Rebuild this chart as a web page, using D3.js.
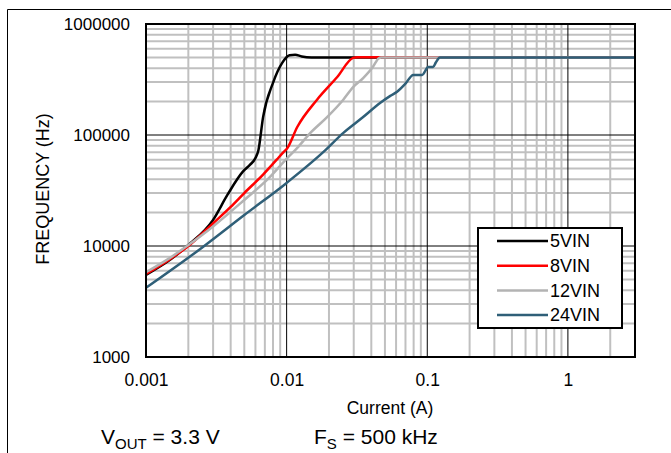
<!DOCTYPE html>
<html><head><meta charset="utf-8">
<script src="https://cdn.jsdelivr.net/npm/d3@7"></script>
<style>body{margin:0;background:#fff}svg{display:block}text{font-family:Arial,"Liberation Sans",sans-serif;fill:#000}</style>
</head><body>
<script>
const seriesNames = ["5VIN","8VIN","12VIN","24VIN"];
const seriesColors = ["#000000","#ff0000","#b3b3b3","#2f5f78"];
const i5 = [0.001,0.0015,0.002,0.003,0.0038,0.0049,0.0055,0.006,0.0063,0.0068,0.008,0.0093,0.0105,0.0115,0.0128,0.015,0.03,3];
const f5 = [5500,7600,10200,17200,29000,47000,54000,62000,73000,145000,295000,446000,522000,528000,510000,500000,500000,500000];
const i8 = [0.001,0.0015,0.002,0.003,0.004,0.005,0.0068,0.0085,0.0095,0.0101,0.0119,0.0164,0.0229,0.0297,0.032,3];
const f8 = [5600,7700,10000,16000,22500,30000,44000,60000,70000,76000,118000,207000,333000,495000,502000,502000];
const i12 = [0.001,0.0015,0.002,0.003,0.005,0.0075,0.0101,0.0115,0.0147,0.0194,0.0252,0.0297,0.035,0.041,0.045,0.047,3];
const f12 = [5800,7900,10200,15000,26000,41000,62000,73000,104000,145000,207000,270000,325000,409000,490000,500000,500000];
const i24 = [0.001,0.00254,0.005,0.01,0.0182,0.0252,0.035,0.0464,0.0546,0.061,0.07,0.0795,0.092,0.097,0.101,0.11,0.115,0.123,3];
const f24 = [4200,9800,19000,37000,70000,104000,145000,195000,225000,245000,290000,348000,348000,380000,410000,410000,450000,500000,500000];
const xTicks = [0.001,0.01,0.1,1];
const xTickLabels = ["0.001","0.01","0.1","1"];
const yTicks = [1000,10000,100000,1000000];
const yTickLabels = ["1000","10000","100000","1000000"];
const xDomain = [0.001,3];
const yDomain = [1000,1000000];

const W=671,H=453;
const svg=d3.select("body").append("svg").attr("width",W).attr("height",H);
svg.append("rect").attr("width",W).attr("height",H).attr("fill","#fff");
svg.append("line").attr("x1",7.5).attr("x2",W).attr("y1",9.5).attr("y2",9.5).attr("stroke","#000").attr("stroke-width",1);
svg.append("line").attr("x1",7.5).attr("x2",7.5).attr("y1",9.5).attr("y2",H).attr("stroke","#000").attr("stroke-width",1);

const L=146,R=635,T=24,B=357;
const x=d3.scaleLog().domain(xDomain).range([L,R]);
const y=d3.scaleLog().domain(yDomain).range([B,T]);

const g=svg.append("g");
const minorX=[];
for(let d=0.001; d<3; d*=10){ for(let k=2;k<=9;k++){ const v=d*k; if(v<3-1e-9) minorX.push(v);} }
const minorY=[];
for(let d=1000; d<1000000; d*=10){ for(let k=2;k<=9;k++) minorY.push(d*k); }
g.selectAll(".mx").data(minorX).enter().append("line").attr("x1",d=>x(d)).attr("x2",d=>x(d)).attr("y1",T).attr("y2",B).attr("stroke","#c0c0c0").attr("stroke-width",2);
g.selectAll(".my").data(minorY).enter().append("line").attr("x1",L).attr("x2",R).attr("y1",d=>y(d)).attr("y2",d=>y(d)).attr("stroke","#c0c0c0").attr("stroke-width",2);
g.selectAll(".Mx").data(xTicks.slice(1)).enter().append("line").attr("x1",d=>x(d)).attr("x2",d=>x(d)).attr("y1",T).attr("y2",B).attr("stroke","#000").attr("stroke-width",1);
g.selectAll(".My").data(yTicks.slice(1,-1)).enter().append("line").attr("x1",L).attr("x2",R).attr("y1",d=>y(d)).attr("y2",d=>y(d)).attr("stroke","#000").attr("stroke-width",1);

const line=d3.line().x(d=>x(d[0])).y(d=>y(d[1])).curve(d3.curveMonotoneX);
const series=[[i5,f5],[i8,f8],[i12,f12],[i24,f24]];
svg.append("defs").append("clipPath").attr("id","clip").append("rect").attr("x",L).attr("y",T).attr("width",R-L).attr("height",B-T);
series.forEach((s,i)=>{
  const pts=s[0].map((v,j)=>[v,s[1][j]]);
  svg.append("path").attr("d",line(pts)).attr("fill","none").attr("stroke",seriesColors[i]).attr("stroke-width",2.5).attr("clip-path","url(#clip)");
});

svg.append("rect").attr("x",L).attr("y",T).attr("width",R-L).attr("height",B-T).attr("fill","none").attr("stroke","#000").attr("stroke-width",2);

const xAxis=d3.axisBottom(x).tickValues(xTicks).tickFormat((d,i)=>xTickLabels[i]).tickSize(0).tickPadding(0);
const xa=svg.append("g").attr("transform",`translate(0,${B})`).call(xAxis);
xa.select(".domain").remove();
xa.selectAll("text").attr("dy",null).attr("y",29).style("font-size","17.5px").style("font-family","Arial, 'Liberation Sans', sans-serif");
const yAxis=d3.axisLeft(y).tickValues(yTicks).tickFormat((d,i)=>yTickLabels[i]).tickSize(0).tickPadding(0);
const ya=svg.append("g").attr("transform",`translate(${L-16},0)`).call(yAxis);
ya.select(".domain").remove();
ya.selectAll("text").attr("dy","0.35em").style("font-size","17px").style("font-family","Arial, 'Liberation Sans', sans-serif");

svg.append("text").attr("x",390).attr("y",414).attr("text-anchor","middle").style("font-size","17.5px").text("Current (A)");
svg.append("text").attr("transform","translate(49,189) rotate(-90)").attr("text-anchor","middle").style("font-size","18px").text("FREQUENCY (Hz)");

const t1=svg.append("text").attr("x",101).attr("y",444).style("font-size","21px");
t1.append("tspan").text("V");
t1.append("tspan").attr("dy",5).style("font-size","15px").text("OUT");
t1.append("tspan").attr("dy",-5).text(" = 3.3 V");
const t2=svg.append("text").attr("x",314).attr("y",444).style("font-size","21px");
t2.append("tspan").text("F");
t2.append("tspan").attr("dy",5).style("font-size","15px").text("S");
t2.append("tspan").attr("dy",-5).text(" = 500 kHz");

const lg=svg.append("g");
lg.append("rect").attr("x",478).attr("y",228).attr("width",144).attr("height",100).attr("fill","#fff").attr("stroke","#000").attr("stroke-width",2);
seriesNames.forEach((n,i)=>{
  const yy=241+i*24.7;
  lg.append("line").attr("x1",497).attr("x2",548).attr("y1",yy).attr("y2",yy).attr("stroke",seriesColors[i]).attr("stroke-width",2.5);
  lg.append("text").attr("x",550).attr("y",yy).attr("dy","0.35em").style("font-size","18px").text(n);
});
</script>
</body></html>
